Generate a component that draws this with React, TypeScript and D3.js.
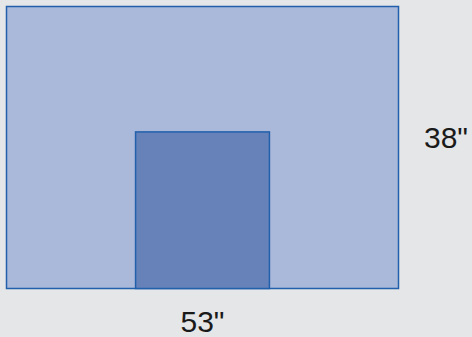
import React from "react";
import * as d3 from "d3";

const W = 472;
const H = 337;

// dimensions in inches
const outerWidth = [0, 53];
const outerHeight = [0, 38];
const innerX = [17.45, 35.55];
const innerY = [0, 21.1];
const labels = ['53"', '38"'];

export default function App() {
  const x = d3.scaleLinear().domain(outerWidth).range([6.5, 398.5]);
  const y = d3.scaleLinear().domain(outerHeight).range([288.5, 6.5]);
  return (
    <svg width={W} height={H} style={{ position: "fixed", left: 0, top: 0, display: "block" }}>
      <rect x={0} y={0} width={W} height={H} fill="#e5e6e7" />
      <rect
        x={x(outerWidth[0])}
        y={y(outerHeight[1])}
        width={x(outerWidth[1]) - x(outerWidth[0])}
        height={y(outerHeight[0]) - y(outerHeight[1])}
        fill="#aab8da"
        stroke="#2260ab"
        strokeWidth={1.5}
      />
      <rect
        x={x(innerX[0])}
        y={y(innerY[1])}
        width={x(innerX[1]) - x(innerX[0])}
        height={y(innerY[0]) - y(innerY[1])}
        fill="#6782b9"
        stroke="#2260ab"
        strokeWidth={1.5}
      />
      <text
        x={(x(outerWidth[0]) + x(outerWidth[1])) / 2}
        y={332}
        textAnchor="middle"
        fontFamily="Liberation Sans, Arial, sans-serif"
        fontSize={30}
        fill="#1a1a1a"
      >
        {labels[0]}
      </text>
      <text
        x={424}
        y={148}
        textAnchor="start"
        fontFamily="Liberation Sans, Arial, sans-serif"
        fontSize={30}
        fill="#1a1a1a"
      >
        {labels[1]}
      </text>
    </svg>
  );
}
